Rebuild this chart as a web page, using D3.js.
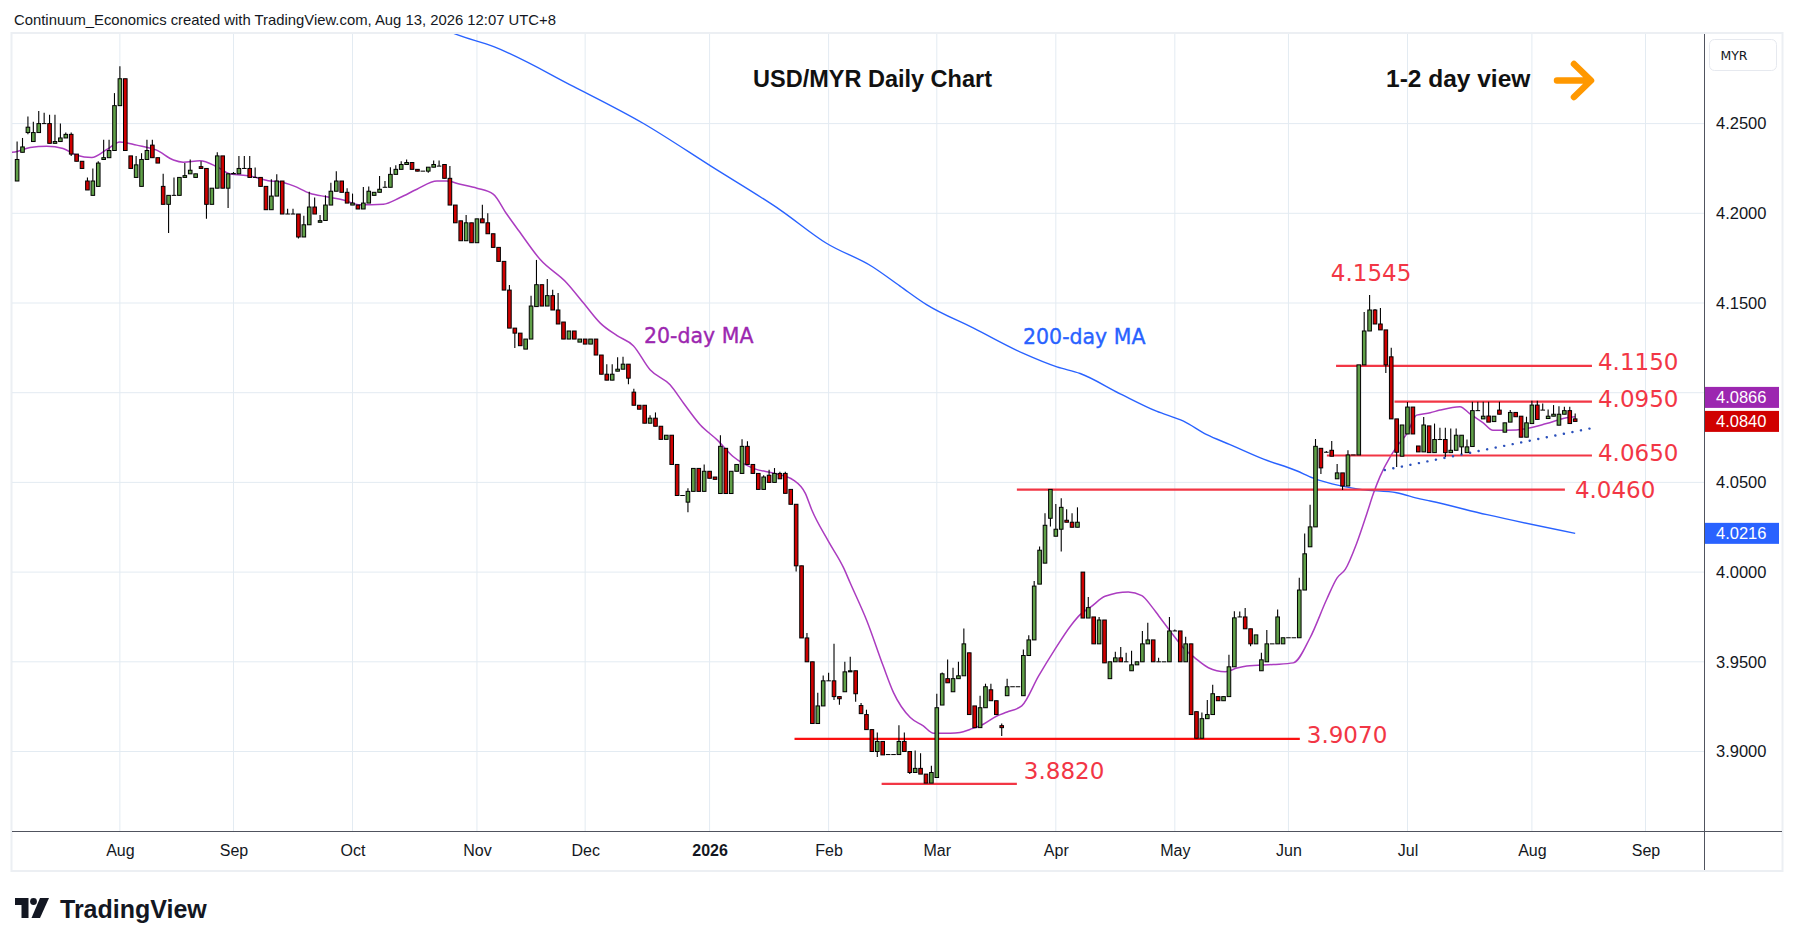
<!DOCTYPE html>
<html>
<head>
<meta charset="utf-8">
<title>USD/MYR Daily Chart</title>
<script src="https://cdn.jsdelivr.net/npm/d3@7"></script>
<style>
  html, body { margin: 0; padding: 0; background: #fff; }
  svg { display: block; }
</style>
</head>
<body>
<svg id="chart" width="1794" height="946"></svg>
<script>
// Daily candles, one row per weekday: [open, high, low, close]
const jul2025 = [
  [4.2180,4.2400,4.2180,4.2300],[4.2340,4.2420,4.2340,4.2370],[4.2450,4.2540,4.2440,4.2480],
  [4.2400,4.2510,4.2400,4.2450],[4.2450,4.2570,4.2450,4.2500],[4.2500,4.2560,4.2500,4.2500],
  [4.2500,4.2550,4.2390,4.2390],[4.2390,4.2550,4.2390,4.2400],[4.2400,4.2500,4.2400,4.2420],
  [4.2420,4.2450,4.2420,4.2440],[4.2440,4.2450,4.2320,4.2330],[4.2330,4.2330,4.2290,4.2290],
  [4.2290,4.2290,4.2250,4.2250],[4.2180,4.2200,4.2130,4.2130],[4.2100,4.2250,4.2100,4.2180],
  [4.2150,4.2290,4.2150,4.2280],[4.2300,4.2410,4.2300,4.2310],[4.2310,4.2410,4.2310,4.2350],
  [4.2350,4.2670,4.2350,4.2600]
];
const aug2025 = [
  [4.2600,4.2820,4.2600,4.2750],[4.2750,4.2750,4.2350,4.2350],[4.2320,4.2320,4.2250,4.2250],
  [4.2200,4.2320,4.2200,4.2270],[4.2150,4.2335,4.2150,4.2300],[4.2300,4.2410,4.2300,4.2350],
  [4.2380,4.2410,4.2310,4.2310],[4.2310,4.2310,4.2280,4.2280],[4.2150,4.2220,4.2050,4.2050],
  [4.2050,4.2100,4.1890,4.2100],[4.2100,4.2200,4.2100,4.2100],[4.2100,4.2200,4.2100,4.2200],
  [4.2200,4.2280,4.2200,4.2210],[4.2220,4.2300,4.2220,4.2240],[4.2200,4.2220,4.2200,4.2220],
  [4.2260,4.2290,4.2250,4.2250],[4.2250,4.2250,4.1970,4.2050],[4.2050,4.2140,4.2050,4.2140],
  [4.2140,4.2340,4.2140,4.2320],[4.2320,4.2320,4.2140,4.2140],[4.2140,4.2220,4.2030,4.2220]
];
const sep2025 = [
  [4.2220,4.2230,4.2220,4.2222],[4.2220,4.2320,4.2220,4.2250],[4.2250,4.2320,4.2250,4.2250],
  [4.2250,4.2320,4.2200,4.2200],[4.2200,4.2255,4.2200,4.2200],[4.2200,4.2200,4.2150,4.2150],
  [4.2150,4.2150,4.2020,4.2020],[4.2020,4.2190,4.2020,4.2096],[4.2096,4.2217,4.2096,4.2180],
  [4.2180,4.2180,4.1996,4.1996],[4.1996,4.2025,4.1996,4.1996],[4.1996,4.2025,4.1996,4.1996],
  [4.1996,4.1996,4.1860,4.1868],[4.1868,4.1987,4.1868,4.1936],[4.1936,4.2120,4.1936,4.2035],
  [4.2035,4.2088,4.1996,4.1996],[4.1950,4.1990,4.1950,4.1959],[4.1960,4.2100,4.1960,4.2046],
  [4.2046,4.2170,4.2046,4.2123],[4.2123,4.2235,4.2123,4.2180],[4.2180,4.2180,4.2117,4.2117],
  [4.2117,4.2140,4.2057,4.2057]
];
const oct2025 = [
  [4.2046,4.2110,4.2046,4.2057],[4.2046,4.2046,4.2024,4.2024],[4.2024,4.2147,4.2024,4.2057],
  [4.2057,4.2150,4.2057,4.2123],[4.2100,4.2117,4.2100,4.2117],[4.2117,4.2208,4.2117,4.2134],
  [4.2145,4.2180,4.2145,4.2145],[4.2145,4.2257,4.2145,4.2217],[4.2217,4.2268,4.2217,4.2245],
  [4.2245,4.2290,4.2245,4.2272],[4.2272,4.2300,4.2272,4.2283],[4.2283,4.2283,4.2245,4.2245],
  [4.2245,4.2245,4.2235,4.2235],[4.2235,4.2235,4.2235,4.2235],[4.2235,4.2257,4.2226,4.2257],
  [4.2257,4.2294,4.2257,4.2272],[4.2263,4.2294,4.2263,4.2263],[4.2272,4.2272,4.2195,4.2195],
  [4.2195,4.2263,4.2046,4.2046],[4.2046,4.2046,4.1947,4.1947],[4.1958,4.1958,4.1847,4.1847],
  [4.1847,4.1990,4.1847,4.1947],[4.1947,4.1947,4.1836,4.1836]
];
const nov2025 = [
  [4.1836,4.1969,4.1836,4.1969],[4.1969,4.2048,4.1947,4.1947],[4.1947,4.2000,4.1886,4.1886],
  [4.1886,4.1886,4.1810,4.1810],[4.1810,4.1810,4.1732,4.1732],[4.1732,4.1732,4.1572,4.1572],
  [4.1572,4.1600,4.1360,4.1360],[4.1360,4.1360,4.1249,4.1332],[4.1332,4.1332,4.1262,4.1262],
  [4.1243,4.1299,4.1243,4.1299],[4.1299,4.1541,4.1299,4.1483],[4.1480,4.1740,4.1480,4.1602],
  [4.1602,4.1602,4.1483,4.1483],[4.1483,4.1634,4.1483,4.1541],[4.1541,4.1574,4.1461,4.1461],
  [4.1461,4.1556,4.1383,4.1383],[4.1394,4.1394,4.1299,4.1299],[4.1299,4.1344,4.1299,4.1344],
  [4.1344,4.1344,4.1299,4.1299],[4.1282,4.1299,4.1282,4.1299]
];
const dec2025 = [
  [4.1299,4.1299,4.1271,4.1271],[4.1271,4.1299,4.1271,4.1299],[4.1299,4.1299,4.1210,4.1210],
  [4.1210,4.1210,4.1103,4.1103],[4.1103,4.1159,4.1070,4.1070],[4.1070,4.1159,4.1070,4.1103],
  [4.1120,4.1198,4.1120,4.1131],[4.1131,4.1200,4.1131,4.1159],[4.1159,4.1159,4.1047,4.1081],
  [4.1003,4.1022,4.0930,4.0930],[4.0930,4.0930,4.0908,4.0908],[4.0930,4.0930,4.0830,4.0830],
  [4.0830,4.0875,4.0830,4.0858],[4.0858,4.0890,4.0813,4.0813],[4.0813,4.0813,4.0740,4.0740],
  [4.0740,4.0763,4.0740,4.0763],[4.0763,4.0763,4.0600,4.0600],[4.0600,4.0600,4.0427,4.0427],
  [4.0427,4.0427,4.0427,4.0427],[4.0390,4.0467,4.0333,4.0450],[4.0450,4.0578,4.0450,4.0578],
  [4.0578,4.0578,4.0450,4.0450],[4.0450,4.0600,4.0450,4.0562]
];
const jan2026 = [
  [4.0562,4.0562,4.0523,4.0523],[4.0530,4.0530,4.0517,4.0517],[4.0438,4.0763,4.0438,4.0701],
  [4.0690,4.0690,4.0438,4.0438],[4.0438,4.0562,4.0438,4.0562],[4.0562,4.0600,4.0562,4.0600],
  [4.0550,4.0740,4.0550,4.0701],[4.0701,4.0729,4.0600,4.0600],[4.0600,4.0600,4.0550,4.0550],
  [4.0550,4.0550,4.0461,4.0461],[4.0461,4.0540,4.0461,4.0530],[4.0540,4.0570,4.0500,4.0500],
  [4.0500,4.0580,4.0500,4.0550],[4.0550,4.0560,4.0520,4.0520],[4.0550,4.0560,4.0439,4.0439],
  [4.0461,4.0461,4.0378,4.0378],[4.0378,4.0378,4.0004,4.0035],[4.0035,4.0035,3.9633,3.9633],
  [3.9633,3.9660,3.9500,3.9500],[3.9500,3.9500,3.9156,3.9156],[3.9156,3.9328,3.9156,3.9254],
  [3.9254,3.9424,3.9254,3.9394]
];
const feb2026 = [
  [3.9394,3.9439,3.9394,3.9394],[3.9394,3.9600,3.9287,3.9306],[3.9306,3.9306,3.9260,3.9294],
  [3.9333,3.9500,3.9333,3.9444],[3.9444,3.9528,3.9444,3.9450],[3.9450,3.9450,3.9278,3.9322],
  [3.9256,3.9270,3.9211,3.9211],[3.9206,3.9233,3.9122,3.9122],[3.9122,3.9122,3.9000,3.9000],
  [3.9000,3.9106,3.8970,3.9056],[3.9056,3.9056,3.8981,3.8981],[3.8983,3.8983,3.8983,3.8983],
  [3.8983,3.8983,3.8983,3.8983],[3.8983,3.9146,3.8983,3.9056],[3.9056,3.9106,3.9000,3.9000],
  [3.9000,3.9000,3.8874,3.8883],[3.8883,3.9006,3.8883,3.8906],[3.8906,3.8990,3.8874,3.8874],
  [3.8874,3.8874,3.8824,3.8824],[3.8824,3.8920,3.8824,3.8883]
];
const mar2026 = [
  [3.8855,3.9322,3.8855,3.9244],[3.9259,3.9440,3.9259,3.9433],[3.9406,3.9513,3.9383,3.9383],
  [3.9333,3.9467,3.9333,3.9406],[3.9406,3.9500,3.9406,3.9422],[3.9422,3.9685,3.9422,3.9600],
  [3.9550,3.9550,3.9206,3.9206],[3.9254,3.9254,3.9133,3.9133],[3.9133,3.9311,3.9133,3.9244],
  [3.9244,3.9378,3.9244,3.9361],[3.9344,3.9378,3.9283,3.9283],[3.9283,3.9283,3.9206,3.9206],
  [3.9144,3.9156,3.9087,3.9133],[3.9311,3.9406,3.9311,3.9361],[3.9361,3.9361,3.9361,3.9361],
  [3.9361,3.9361,3.9361,3.9361],[3.9311,3.9569,3.9311,3.9535],[3.9535,3.9648,3.9535,3.9622],
  [3.9622,3.9950,3.9622,3.9922],[3.9933,4.0143,3.9933,4.0122],[4.0050,4.0328,4.0050,4.0261],
  [4.0300,4.0461,4.0254,4.0461]
];
const apr2026 = [
  [4.0200,4.0380,4.0200,4.0239],[4.0239,4.0411,4.0115,4.0361],[4.0289,4.0350,4.0278,4.0278],
  [4.0278,4.0328,4.0250,4.0250],[4.0250,4.0361,4.0250,4.0278],[4.0000,4.0000,3.9744,3.9744],
  [3.9744,3.9861,3.9744,3.9802],[3.9750,3.9750,3.9600,3.9600],[3.9600,3.9750,3.9600,3.9733],
  [3.9733,3.9733,3.9494,3.9494],[3.9406,3.9500,3.9406,3.9500],[3.9500,3.9556,3.9500,3.9522],
  [3.9522,3.9583,3.9500,3.9500],[3.9500,3.9550,3.9500,3.9500],[3.9450,3.9561,3.9450,3.9483],
  [3.9483,3.9500,3.9483,3.9500],[3.9500,3.9672,3.9500,3.9600],[3.9600,3.9717,3.9600,3.9622],
  [3.9622,3.9622,3.9500,3.9500],[3.9500,3.9522,3.9500,3.9500],[3.9500,3.9500,3.9500,3.9500],
  [3.9500,3.9750,3.9500,3.9672]
];
const may2026 = [
  [3.9672,3.9680,3.9672,3.9672],[3.9672,3.9672,3.9500,3.9500],[3.9500,3.9639,3.9500,3.9600],
  [3.9600,3.9600,3.9206,3.9206],[3.9222,3.9222,3.9074,3.9074],[3.9074,3.9217,3.9074,3.9183],
  [3.9183,3.9287,3.9183,3.9206],[3.9206,3.9372,3.9206,3.9322],[3.9306,3.9306,3.9283,3.9283],
  [3.9283,3.9306,3.9283,3.9306],[3.9306,3.9539,3.9306,3.9472],[3.9472,3.9782,3.9472,3.9745],
  [3.9750,3.9780,3.9750,3.9750],[3.9750,3.9800,3.9684,3.9684],[3.9684,3.9684,3.9587,3.9600],
  [3.9600,3.9650,3.9600,3.9650],[3.9450,3.9550,3.9450,3.9511],[3.9500,3.9677,3.9500,3.9600],
  [3.9600,3.9600,3.9600,3.9600],[3.9600,3.9792,3.9600,3.9750],[3.9600,3.9634,3.9600,3.9634]
];
const jun2026 = [
  [3.9634,3.9634,3.9634,3.9634],[3.9634,3.9634,3.9634,3.9634],[3.9634,3.9968,3.9634,3.9900],
  [3.9900,4.0215,3.9900,4.0102],[4.0141,4.0375,4.0141,4.0252],[4.0252,4.0742,4.0252,4.0701],
  [4.0690,4.0690,4.0547,4.0581],[4.0668,4.0675,4.0668,4.0668],[4.0679,4.0731,4.0646,4.0646],
  [4.0520,4.0603,4.0520,4.0553],[4.0553,4.0553,4.0458,4.0480],[4.0480,4.0679,4.0480,4.0653],
  [4.0653,4.0653,4.0653,4.0653],[4.0653,4.1155,4.0653,4.1155],[4.1155,4.1450,4.1155,4.1344],
  [4.1344,4.1545,4.1344,4.1461],[4.1461,4.1467,4.1383,4.1383],[4.1383,4.1472,4.1350,4.1350],
  [4.1350,4.1350,4.1110,4.1155],[4.1200,4.1250,4.0854,4.0854],[4.0854,4.0854,4.0586,4.0668],
  [4.0646,4.0820,4.0646,4.0820]
];
const jul2026 = [
  [4.0770,4.0948,4.0770,4.0920],[4.0920,4.0920,4.0770,4.0770],[4.0703,4.0703,4.0670,4.0670],
  [4.0670,4.0865,4.0670,4.0820],[4.0815,4.0815,4.0666,4.0666],[4.0666,4.0828,4.0666,4.0739],
  [4.0739,4.0804,4.0739,4.0739],[4.0739,4.0804,4.0642,4.0666],[4.0666,4.0800,4.0666,4.0679],
  [4.0679,4.0800,4.0679,4.0763],[4.0698,4.0763,4.0657,4.0763],[4.0666,4.0739,4.0666,4.0698],
  [4.0700,4.0950,4.0700,4.0900],[4.0900,4.0950,4.0900,4.0900],[4.0854,4.0950,4.0854,4.0869],
  [4.0870,4.0950,4.0836,4.0836],[4.0839,4.0869,4.0839,4.0869],[4.0903,4.0950,4.0880,4.0880],
  [4.0780,4.0832,4.0780,4.0832],[4.0836,4.0903,4.0836,4.0890],[4.0890,4.0890,4.0866,4.0866],
  [4.0869,4.0869,4.0752,4.0752],[4.0752,4.0866,4.0752,4.0832]
];
const aug2026 = [
  [4.0828,4.0955,4.0828,4.0931],[4.0931,4.0955,4.0851,4.0851],[4.0903,4.0940,4.0903,4.0903],
  [4.0856,4.0907,4.0856,4.0869],[4.0869,4.0931,4.0869,4.0880],[4.0819,4.0925,4.0819,4.0880],
  [4.0880,4.0921,4.0880,4.0900],[4.0900,4.0921,4.0828,4.0828],[4.0854,4.0884,4.0839,4.0840]
];

// Moving averages: [bar index, value]
const ma20 = [
  [-1,4.2340],[0,4.2345],[2.4,4.2367],[5.5,4.2374],[8.5,4.2361],[11,4.2324],[13.8,4.2311],
  [16.6,4.2356],[19,4.2398],[22.1,4.2380],[25.8,4.2352],[28.9,4.2297],[30.7,4.2285],[33.8,4.2293],
  [36.9,4.2260],[39.4,4.2219],[43,4.2208],[46.4,4.2182],[48.6,4.2176],[51.1,4.2153],[54.1,4.2112],
  [57.2,4.2092],[60.3,4.2074],[63.4,4.2048],[67.7,4.2051],[70.8,4.2088],[73.9,4.2134],[77.6,4.2180],
  [79.4,4.2180],[81.9,4.2162],[85,4.2140],[88,4.2107],[90.5,4.1996],[92.7,4.1904],[96.7,4.1742],
  [101.6,4.1612],[104.7,4.1500],[107.8,4.1388],[110.9,4.1318],[113.9,4.1262],[117,4.1128],
  [120.7,4.1044],[123.2,4.0941],[126.3,4.0820],[129.4,4.0737],[132.4,4.0643],[136.1,4.0578],
  [140,4.0550],[143.5,4.0513],[145.7,4.0439],[146.9,4.0346],[150,4.0170],[152.8,4.0022],
  [154,3.9939],[157.1,3.9726],[160.1,3.9476],[162,3.9328],[165.1,3.9189],[167.5,3.9143],
  [169.4,3.9102],[172.5,3.9102],[174.3,3.9106],[176.2,3.9124],[178.6,3.9152],[181.1,3.9198],
  [183,3.9220],[185.7,3.9254],[188.8,3.9420],[191.8,3.9568],[194.9,3.9707],[196.5,3.9763],
  [198.6,3.9809],[201.1,3.9865],[205.4,3.9889],[207.9,3.9869],[209.7,3.9809],[211,3.9757],
  [213.4,3.9661],[215.9,3.9568],[217.7,3.9522],[220.2,3.9467],[223.3,3.9445],[225.5,3.9465],
  [227.3,3.9476],[232.2,3.9485],[235.9,3.9494],[239,3.9634],[242.1,3.9850],[244,3.9968],
  [245.5,4.0015],[247.6,4.0160],[249.5,4.0327],[250.7,4.0438],[251.9,4.0531],[253.8,4.0642],
  [255,4.0698],[256.9,4.0772],[258.7,4.0875],[261.2,4.0888],[263,4.0903],[266.7,4.0922],
  [268.5,4.0884],[271,4.0832],[272.8,4.0791],[275.3,4.0791],[279,4.0800],[282.7,4.0828],
  [286.4,4.0860],[288,4.0866]
];
const ma200 = [
  [78,4.3040],[80.7,4.3003],[88.1,4.2929],[102.9,4.2706],[115.7,4.2502],[128.4,4.2260],
  [141.1,4.2018],[149.6,4.1833],[158.1,4.1702],[163.2,4.1594],[168.1,4.1491],[176.8,4.1360],
  [186,4.1219],[192.2,4.1144],[196.5,4.1107],[203.9,4.0994],[210.6,4.0897],[215.6,4.0841],
  [219.9,4.0766],[224.2,4.0711],[230.4,4.0630],[236.5,4.0565],[239.6,4.0524],[244.5,4.0482],
  [248.6,4.0460],[255,4.0442],[259.3,4.0408],[261.2,4.0396],[271.7,4.0320],[288,4.0216]
];

// Hand-drawn support/resistance levels
const levelPrices = [4.1150, 4.0950, 4.0650, 4.0460, 3.9070, 3.8820];
const levelFrom   = [243.8, 254.6, 242.1, 184.8, 143.7, 159.8];
const levelTo     = [291.1, 291.1, 291.1, 286.1, 237.1, 184.8];
const trendPts = [[252.8, 4.0569], [291, 4.0802]];
const peakIdx = 250, peakPrice = 4.1545;

const priceTicks = [3.90, 3.95, 4.00, 4.05, 4.10, 4.15, 4.20, 4.25];
const monthNames = ['Jan','Feb','Mar','Apr','May','Jun','Jul','Aug','Sep','Oct','Nov','Dec'];
const lastTags = [
  { value: 4.0866, color: '#9c27b0' },
  { value: 4.0840, color: '#d00000' },
  { value: 4.0216, color: '#2962ff' }
];

// ---- layout ----
const plotL = 12, plotR = 1704, plotT = 34, plotB = 831, frameR = 1782, frameB = 870;
const barX0 = 17.1, barStep = 5.41;
const GREEN = '#60a048', RED = '#d00000', LEVEL = '#f23645';

const candles = [].concat(jul2025, aug2025, sep2025, oct2025, nov2025, dec2025, jan2026,
  feb2026, mar2026, apr2026, may2026, jun2026, jul2026, aug2026)
  .map((r, i) => ({ i, o: r[0], h: r[1], l: r[2], c: r[3] }));

// weekday calendar from the first bar (forex daily bars)
const dates = [];
for (let d = new Date(Date.UTC(2025, 6, 7)); d <= new Date(Date.UTC(2026, 8, 30)); d.setUTCDate(d.getUTCDate() + 1)) {
  const wd = d.getUTCDay();
  if (wd !== 0 && wd !== 6) dates.push(new Date(d));
}

const x = d3.scaleLinear().domain([0, 300]).range([barX0, barX0 + 300 * barStep]);
const y = d3.scaleLinear().domain([3.90, 4.25]).range([751.5, 123.6]);

const monthTicks = [];
dates.forEach((d, i) => {
  if (i > 0 && d.getUTCMonth() !== dates[i - 1].getUTCMonth() && x(i) < plotR - 10) monthTicks.push(i);
});

const svg = d3.select('#chart');
svg.append('rect').attr('width', 1794).attr('height', 946).attr('fill', '#fff');

// frame
svg.append('rect')
  .attr('x', plotL - 0.5).attr('y', plotT - 1)
  .attr('width', frameR - plotL + 1).attr('height', frameB - plotT + 2)
  .attr('fill', 'none').attr('stroke', '#eceff3').attr('stroke-width', 2);

// grid
const grid = svg.append('g');
grid.selectAll('line.h').data(priceTicks).enter().append('line')
  .attr('x1', plotL).attr('x2', plotR)
  .attr('y1', d => y(d)).attr('y2', d => y(d))
  .attr('stroke', '#e3ebf2').attr('stroke-width', 1);
grid.selectAll('line.v').data(monthTicks).enter().append('line')
  .attr('x1', d => x(d)).attr('x2', d => x(d))
  .attr('y1', plotT).attr('y2', plotB)
  .attr('stroke', '#e3ebf2').attr('stroke-width', 1);

svg.append('clipPath').attr('id', 'plotClip').append('rect')
  .attr('x', plotL).attr('y', plotT).attr('width', plotR - plotL).attr('height', plotB - plotT);
const plot = svg.append('g').attr('clip-path', 'url(#plotClip)');

// moving averages
const maLine = d3.line().x(d => x(d[0])).y(d => y(d[1])).curve(d3.curveMonotoneX);
plot.append('path').datum(ma200).attr('d', maLine)
  .attr('fill', 'none').attr('stroke', '#2962ff').attr('stroke-width', 1.4);
plot.append('path').datum(ma20).attr('d', maLine)
  .attr('fill', 'none').attr('stroke', '#ab3cc0').attr('stroke-width', 1.5);

// levels
levelPrices.forEach((p, k) => {
  plot.append('line')
    .attr('x1', x(levelFrom[k])).attr('x2', x(levelTo[k]))
    .attr('y1', y(p)).attr('y2', y(p))
    .attr('stroke', p === 3.9070 ? '#fb1010' : LEVEL).attr('stroke-width', 2.2);
});

// dotted trend line
plot.append('path').datum(trendPts)
  .attr('d', d3.line().x(d => x(d[0])).y(d => y(d[1])))
  .attr('fill', 'none').attr('stroke', '#2b50bb').attr('stroke-width', 2.4)
  .attr('stroke-linecap', 'round').attr('stroke-dasharray', '0.1 8.6');

// candles
const bodyW = 3.6;
const cg = plot.append('g');
cg.selectAll('line.wick').data(candles).enter().append('line')
  .attr('x1', d => x(d.i)).attr('x2', d => x(d.i))
  .attr('y1', d => y(d.h)).attr('y2', d => y(d.l))
  .attr('stroke', '#000').attr('stroke-width', 1.1);
cg.selectAll('rect.body').data(candles).enter().append('rect')
  .attr('x', d => x(d.i) - bodyW / 2)
  .attr('y', d => y(Math.max(d.o, d.c)))
  .attr('width', bodyW)
  .attr('height', d => Math.max(0.01, Math.abs(y(d.o) - y(d.c))))
  .attr('fill', d => d.c >= d.o ? GREEN : RED)
  .attr('stroke', '#000').attr('stroke-width', 1);

// level labels
const labelDx = [6, 6, 6, 10, 7, 7];
const labelDy = [-3.8, -2.7, -2.5, 0, -4.5, -13];
levelPrices.forEach((p, k) => {
  svg.append('text')
    .attr('x', x(levelTo[k]) + labelDx[k])
    .attr('y', y(p) + labelDy[k] + 8.4)
    .attr('font-family', 'DejaVu Sans, sans-serif').attr('font-size', 23)
    .attr('fill', LEVEL)
    .text(p.toFixed(4));
});
svg.append('text')
  .attr('x', x(peakIdx) + 1.5).attr('y', y(peakPrice) - 13.5)
  .attr('text-anchor', 'middle')
  .attr('font-family', 'DejaVu Sans, sans-serif').attr('font-size', 23)
  .attr('fill', LEVEL).text(peakPrice.toFixed(4));

// MA labels
svg.append('text').attr('x', 644).attr('y', 342.5)
  .attr('font-family', 'DejaVu Sans, sans-serif').attr('font-size', 20.5)
  .attr('fill', '#9c27b0').attr('stroke', '#9c27b0').attr('stroke-width', 0.35)
  .text('20-day MA');
svg.append('text').attr('x', 1023).attr('y', 344)
  .attr('font-family', 'DejaVu Sans, sans-serif').attr('font-size', 20.5)
  .attr('fill', '#2962ff').attr('stroke', '#2962ff').attr('stroke-width', 0.35)
  .text('200-day MA');

// axes separators
svg.append('line').attr('x1', plotR + 0.5).attr('x2', plotR + 0.5).attr('y1', plotT).attr('y2', frameB)
  .attr('stroke', '#50535e').attr('stroke-width', 1);
svg.append('line').attr('x1', plotL).attr('x2', frameR).attr('y1', plotB + 0.5).attr('y2', plotB + 0.5)
  .attr('stroke', '#50535e').attr('stroke-width', 1);

// last-value tags on the price scale (pushed apart when they collide)
const tagH = 21;
const tagPos = lastTags.map(t => ({ ...t, cy: y(t.value) }));
for (let k = tagPos.length - 2; k >= 0; k--) {
  if (tagPos[k].cy > tagPos[k + 1].cy - tagH - 3) tagPos[k].cy = tagPos[k + 1].cy - tagH - 3;
}

// price axis: tick labels hidden behind a tag are dropped, as on the original
const visibleTicks = priceTicks.filter(p => tagPos.every(t => Math.abs(y(p) - t.cy) > 19));
const yAxis = svg.append('g').attr('transform', `translate(${plotR},0)`)
  .call(d3.axisRight(y).tickValues(visibleTicks).tickFormat(d3.format('.4f')).tickSize(0).tickPadding(12));
yAxis.select('.domain').remove();
yAxis.selectAll('text')
  .attr('font-family', 'Liberation Sans, Arial, sans-serif').attr('font-size', 16.5)
  .attr('fill', '#131722');

// time axis
const xAxis = svg.append('g').attr('transform', `translate(0,${plotB})`)
  .call(d3.axisBottom(x).tickValues(monthTicks).tickSize(0).tickPadding(14)
    .tickFormat(i => dates[i].getUTCMonth() === 0 ? String(dates[i].getUTCFullYear()) : monthNames[dates[i].getUTCMonth()]));
xAxis.select('.domain').remove();
xAxis.selectAll('text')
  .attr('font-family', 'Liberation Sans, Arial, sans-serif').attr('font-size', 16)
  .attr('fill', '#131722')
  .attr('font-weight', i => dates[i].getUTCMonth() === 0 ? 'bold' : 'normal');

tagPos.forEach(t => {
  svg.append('rect').attr('x', plotR + 1).attr('y', t.cy - tagH / 2)
    .attr('width', 74).attr('height', tagH).attr('fill', t.color);
  svg.append('text').attr('x', plotR + 12).attr('y', t.cy).attr('dy', '0.35em')
    .attr('font-family', 'Liberation Sans, Arial, sans-serif').attr('font-size', 16.5)
    .attr('fill', '#fff').text(t.value.toFixed(4));
});

// currency box
svg.append('rect').attr('x', 1709.5).attr('y', 39.5).attr('width', 67).attr('height', 31).attr('rx', 5)
  .attr('fill', '#fff').attr('stroke', '#e6e9ef');
svg.append('text').attr('x', 1734).attr('y', 59.5).attr('text-anchor', 'middle')
  .attr('font-family', 'DejaVu Sans, sans-serif').attr('font-size', 12.5).attr('fill', '#131722')
  .text('MYR');

// titles
svg.append('text').attr('x', 14).attr('y', 24.5)
  .attr('font-family', 'Liberation Sans, Arial, sans-serif').attr('font-size', 15)
  .attr('fill', '#131722').attr('textLength', 542).attr('lengthAdjust', 'spacingAndGlyphs')
  .text('Continuum_Economics created with TradingView.com, Aug 13, 2026 12:07 UTC+8');
svg.append('text').attr('x', 872.5).attr('y', 86.7).attr('text-anchor', 'middle')
  .attr('font-family', 'Liberation Sans, Arial, sans-serif').attr('font-size', 23.5).attr('font-weight', 'bold')
  .attr('fill', '#111').text('USD/MYR Daily Chart');
svg.append('text').attr('x', 1386).attr('y', 87.3)
  .attr('font-family', 'Liberation Sans, Arial, sans-serif').attr('font-size', 24.5).attr('font-weight', 'bold')
  .attr('fill', '#111').text('1-2 day view');

// orange arrow
svg.append('path')
  .attr('d', 'M1557,80.5 L1590,80.5 M1574,64 L1591,80.5 L1574,97')
  .attr('fill', 'none').attr('stroke', '#ff9800').attr('stroke-width', 6.5)
  .attr('stroke-linecap', 'round').attr('stroke-linejoin', 'round');

// TradingView logo
const logo = svg.append('g').attr('fill', '#131722');
logo.append('path').attr('d', 'M15,898 H28.5 V918 H21.5 V905 H15 Z');
logo.append('circle').attr('cx', 33.5).attr('cy', 901.5).attr('r', 3.4);
logo.append('path').attr('d', 'M40,898 H49 L40,918 H31.5 Z');
svg.append('text').attr('x', 60).attr('y', 917.5)
  .attr('font-family', 'Liberation Sans, Arial, sans-serif').attr('font-size', 25).attr('font-weight', 'bold')
  .attr('fill', '#131722').text('TradingView');
</script>
</body>
</html>
